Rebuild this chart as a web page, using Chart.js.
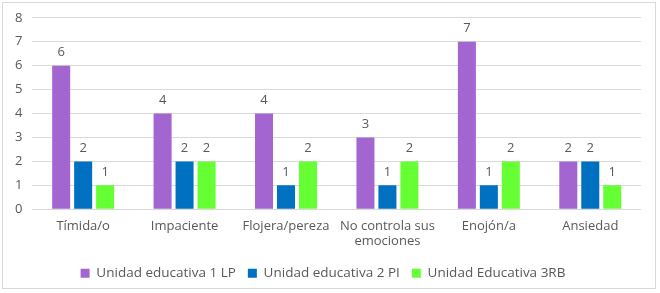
<!DOCTYPE html>
<html>
<head>
<meta charset="utf-8">
<script src="https://cdn.jsdelivr.net/npm/chart.js@4/dist/chart.umd.min.js"></script>
<style>
  html, body { margin: 0; padding: 0; background: #fff; }
  #marco {
    position: absolute; left: 2px; top: 2px; width: 654px; height: 287px;
    border: 1px solid #d9d9d9; box-sizing: border-box;
  }
  #grafico { position: absolute; left: 0; top: 0; }
</style>
</head>
<body>
<div id="marco"></div>
<canvas id="grafico" width="660" height="293"></canvas>
<script>
const categorias = ["Tímida/o", "Impaciente", "Flojera/pereza", ["No controla sus", "emociones"], "Enojón/a", "Ansiedad"];
const unidad1LP = [6, 4, 4, 3, 7, 2];
const unidad2PI = [2, 2, 1, 1, 1, 2];
const unidad3RB = [1, 2, 2, 2, 2, 1];
const ticksY = [0, 1, 2, 3, 4, 5, 6, 7, 8];

const colorTexto = "#595959";
const fuente = "'Open Sans', 'Liberation Sans', sans-serif";

const etiquetasValor = {
  id: "etiquetasValor",
  afterDatasetsDraw(chart) {
    const ctx = chart.ctx;
    ctx.save();
    ctx.fillStyle = colorTexto;
    ctx.font = "13px " + fuente;
    ctx.textAlign = "center";
    ctx.textBaseline = "bottom";
    chart.data.datasets.forEach((dataset, i) => {
      chart.getDatasetMeta(i).data.forEach((barra, j) => {
        ctx.fillText(String(dataset.data[j]), barra.x, barra.y - 7);
      });
    });
    ctx.restore();
  }
};

new Chart(document.getElementById("grafico").getContext("2d"), {
  type: "bar",
  data: {
    labels: categorias,
    datasets: [
      { label: "Unidad educativa 1 LP", data: unidad1LP, backgroundColor: "#a366d1" },
      { label: "Unidad educativa 2 PI", data: unidad2PI, backgroundColor: "#0070c0" },
      { label: "Unidad Educativa 3RB", data: unidad3RB, backgroundColor: "#66ff33" }
    ]
  },
  options: {
    responsive: false,
    animation: false,
    layout: { padding: { left: 5, right: 19, top: 11, bottom: 3 } },
    datasets: {
      bar: { categoryPercentage: 0.65, barPercentage: 0.82 }
    },
    plugins: {
      legend: {
        position: "bottom",
        labels: {
          color: colorTexto,
          font: { family: fuente, size: 13.5 },
          boxWidth: 9,
          boxHeight: 9,
          padding: 12
        }
      },
      tooltip: { enabled: false }
    },
    scales: {
      x: {
        grid: { display: false },
        border: { display: false },
        afterFit(escala) {
          escala.height += 4;
        },
        ticks: { color: colorTexto, font: { family: fuente, size: 13 }, maxRotation: 0, autoSkip: false, padding: 1 }
      },
      y: {
        min: 0,
        max: 8,
        afterBuildTicks(escala) {
          escala.ticks = ticksY.map((v) => ({ value: v }));
        },
        grid: { color: "#d9d9d9", drawTicks: false },
        border: { display: false },
        ticks: { color: colorTexto, font: { family: fuente, size: 13 }, padding: 10 }
      }
    }
  },
  plugins: [etiquetasValor]
});
</script>
</body>
</html>
